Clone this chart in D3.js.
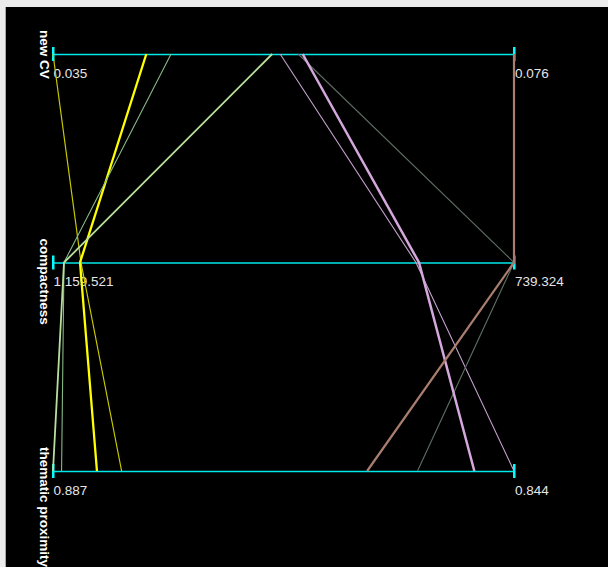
<!DOCTYPE html>
<html>
<head>
<meta charset="utf-8">
<script src="https://cdn.jsdelivr.net/npm/d3@7"></script>
<style>
  html, body { margin: 0; padding: 0; background: #ececec; }
  svg { display: block; }
</style>
</head>
<body>
<svg id="chart" width="608" height="567"></svg>
<script>
// Dimensions (one horizontal axis each) and the values at their two ends
const dimensions = ["new CV", "compactness", "thematic proximity"];
const leftValues  = [0.035, 1159.521, 0.887];
const rightValues = [0.076, 739.324, 0.844];
const tickFormats = [".3f", ",.3f", ".3f"];

// One record per polyline: value on each dimension
const newCV       = [0.035, 0.0433, 0.0455, 0.0545, 0.0552, 0.0568, 0.0572, 0.076];
const compactness = [1134.0, 1134.9, 1149.5, 1149.5, 828.7, 739.324, 825.9, 739.324];
const thematic    = [0.8806, 0.8829, 0.8862, 0.887, 0.844, 0.8530, 0.8477, 0.8577];

// Line styling per record
const seriesColors = ["#c8c800", "#ffff00", "#86b886", "#b8e09c", "#c4a2cc", "#5e6e62", "#d4a8dc", "#aa7e6e"];
const seriesWidths = [1.2, 2.3, 1.1, 1.8, 1.1, 1.1, 2.5, 2.2];

const svg = d3.select("#chart");

// black plotting panel
svg.append("rect").attr("x", 5).attr("y", 7).attr("width", 603).attr("height", 560).attr("fill", "#000");
svg.append("line").attr("x1", 5.5).attr("x2", 5.5).attr("y1", 7).attr("y2", 567)
  .attr("stroke", "#a8a8a8").attr("stroke-width", 1);

const xLeft = 53, xRight = 514;
const yScale = d3.scalePoint().domain(dimensions).range([54, 471]);
const xScales = dimensions.map((d, i) =>
  d3.scaleLinear().domain([leftValues[i], rightValues[i]]).range([xLeft, xRight]));

const records = newCV.map((v, i) => [newCV[i], compactness[i], thematic[i]]);

// axis lines and end ticks
const axes = svg.append("g");
dimensions.forEach((dim, i) => {
  const y = yScale(dim);
  axes.append("line")
    .attr("x1", xScales[i].range()[0]).attr("x2", xScales[i].range()[1])
    .attr("y1", y + 0.5).attr("y2", y + 0.5)
    .attr("stroke", "#00e8e8").attr("stroke-width", 1.6);
  [xScales[i].range()[0], xScales[i].range()[1]].forEach(x => {
    axes.append("rect")
      .attr("x", x - 1).attr("y", y - 7).attr("width", 2.5).attr("height", 14)
      .attr("fill", "#00ffff");
  });
  // end values
  const fmt = d3.format(tickFormats[i]);
  axes.append("text")
    .attr("x", xScales[i](leftValues[i]) + 0.5).attr("y", y + 23.5)
    .attr("fill", "#e6e6e6").attr("font-family", "Liberation Sans, Arial, sans-serif")
    .attr("font-size", 13.5)
    .text(fmt(leftValues[i]));
  axes.append("text")
    .attr("x", xScales[i](rightValues[i]) + 1).attr("y", y + 23.5)
    .attr("fill", "#e6e6e6").attr("font-family", "Liberation Sans, Arial, sans-serif")
    .attr("font-size", 13.5)
    .text(fmt(rightValues[i]));
  // dimension title, running downward
  axes.append("text")
    .attr("transform", `translate(40,${y - 24}) rotate(90)`)
    .attr("fill", "#ffffff").attr("font-family", "Liberation Sans, Arial, sans-serif")
    .attr("font-size", 13.5).attr("font-weight", "bold")
    .text(dim);
});

// polylines
const line = d3.line()
  .x((v, i) => xScales[i](v))
  .y((v, i) => yScale(dimensions[i]));

svg.append("g").selectAll("path")
  .data(records)
  .join("path")
  .attr("d", d => line(d))
  .attr("fill", "none")
  .attr("stroke", (d, i) => seriesColors[i])
  .attr("stroke-width", (d, i) => seriesWidths[i]);
</script>
</body>
</html>
